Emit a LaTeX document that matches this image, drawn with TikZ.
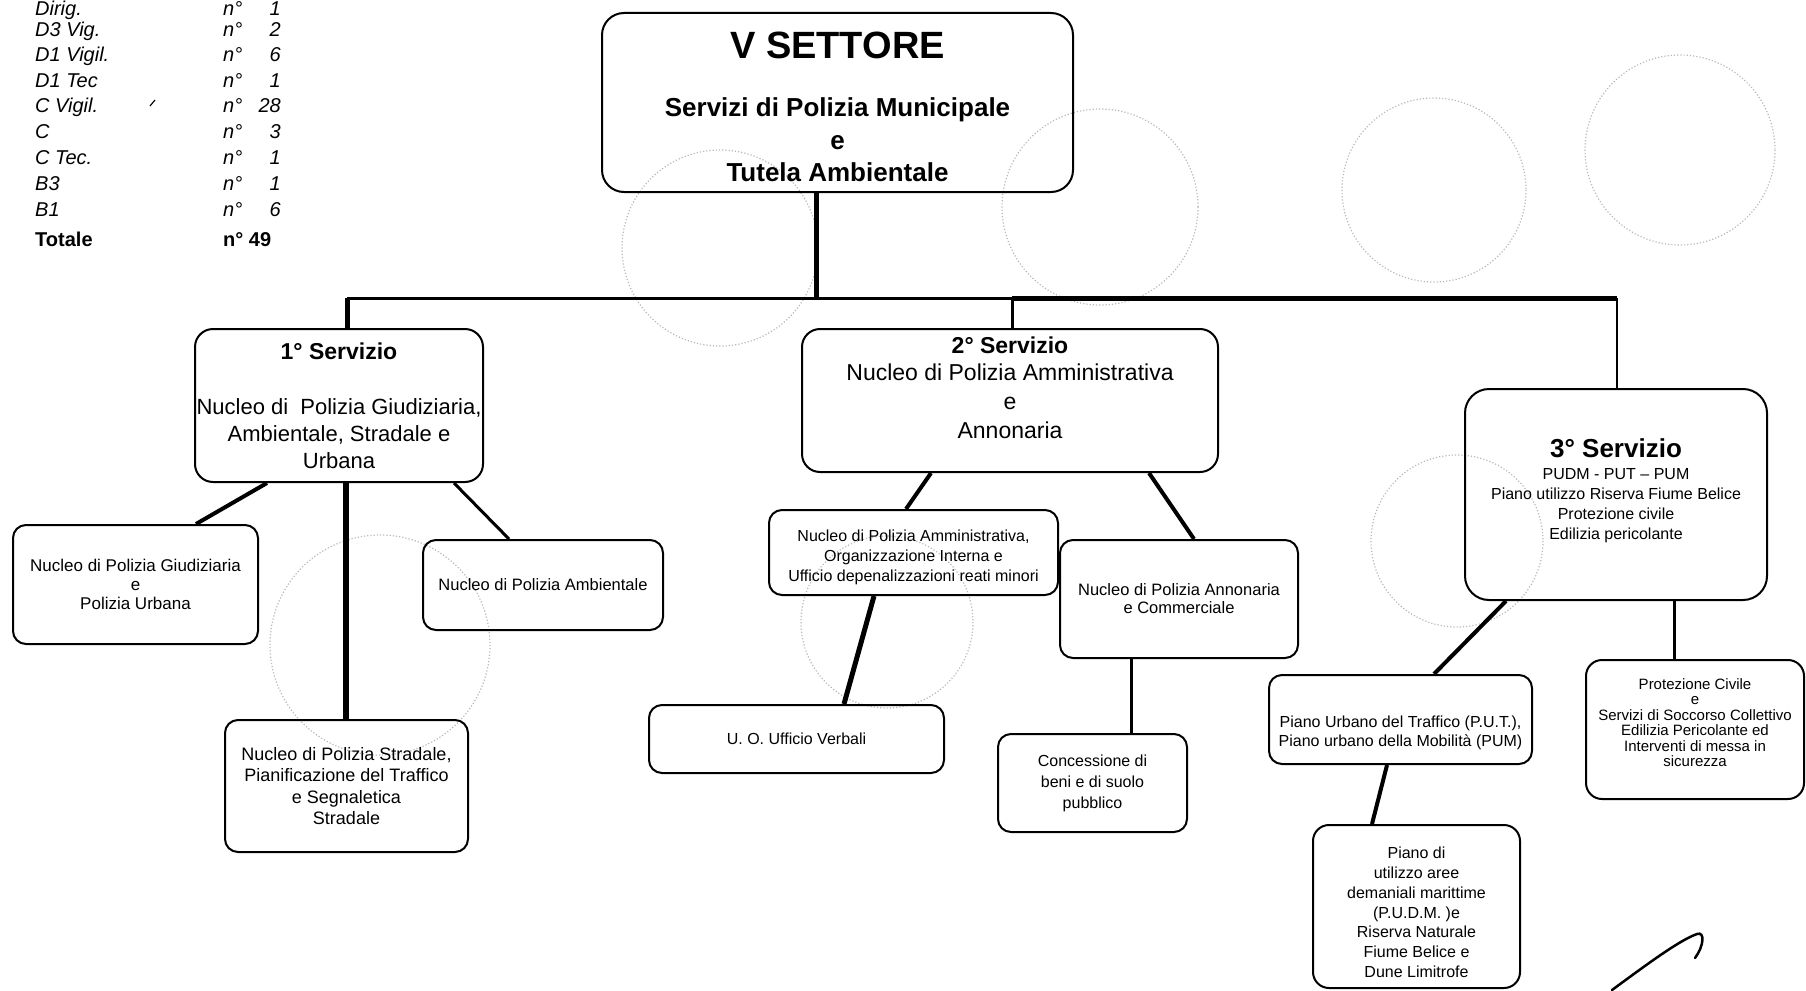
\documentclass[tikz,border=0pt]{standalone}
\usepackage{fontspec}
\setmainfont{Liberation Sans}
\begin{document}
\begin{tikzpicture}[x=1pt,y=-1pt,
  box/.style={draw, line width=2pt, rounded corners=18pt, align=center, inner sep=0pt},
  sbox/.style={box, rounded corners=13pt},
  staff/.style={inner sep=0pt, font=\fontsize{20}{24}\selectfont\itshape},
  tot/.style={inner sep=0pt, font=\fontsize{20}{24}\selectfont\bfseries},
  ln/.style={line width=#1pt},
  stamp/.style={draw=black!28, dotted, line width=1.2pt}
]
\useasboundingbox (0,0) rectangle (1806,990);

% faint stamp circles of the scan
\draw[stamp] (720,248) circle[radius=98];
\draw[stamp] (1100,207) circle[radius=98];
\draw[stamp] (1434,190) circle[radius=92];
\draw[stamp] (1680,150) circle[radius=95];
\draw[stamp] (380,645) circle[radius=110];
\draw[stamp] (887,622) circle[radius=86];
\draw[stamp] (1457,541) circle[radius=86];

% staff list
\foreach \lab/\num/\yy [count=\i] in {Dirig./1/16, D3 Vig./2/37, D1 Vigil./6/62, D1 Tec/1/87, C Vigil./28/112, C/3/138, C Tec./1/164, B3/1/190, B1/6/216} {
  \node[staff, anchor=base west] (sl\i) at (35,\yy) {\lab};
  \node[staff, anchor=base west] (sn\i) at (223,\yy) {n°};
  \node[staff, anchor=base east] (sv\i) at (281,\yy) {\num};
}
\node[tot, anchor=base west] (tl) at (35,246) {Totale};
\node[tot, anchor=base west] (tn) at (223,246) {n° 49};
\draw[ln=1.2] (150,106) -- (155,100);

% boxes
\node[box, rounded corners=22pt, minimum width=471pt, minimum height=179pt,
  font=\fontsize{26}{32.5}\selectfont\bfseries] (main) at (837.5,102.5)
  {\rule{0pt}{35pt}{\fontsize{38}{38}\selectfont V SETTORE}\\[26pt] Servizi di Polizia Municipale\\ e\\ Tutela Ambientale};

\node[box, minimum width=288pt, minimum height=153pt, font=\fontsize{22}{27}\selectfont] (s1) at (339,405.5)
  {{\fontsize{23}{27}\selectfont\bfseries 1° Servizio}\\[28pt] Nucleo di\ \ Polizia Giudiziaria,\\ Ambientale, Stradale e\\ Urbana};

\node[box, minimum width=416pt, minimum height=143pt, font=\fontsize{23}{29}\selectfont] (s2) at (1010,400.5)
  {{\bfseries 2° Servizio}\\[-2pt] Nucleo di Polizia Amministrativa\\ e\\ Annonaria\rule[-26pt]{0pt}{26pt}};

\node[box, rounded corners=24pt, minimum width=302pt, minimum height=211pt, font=\fontsize{16}{20}\selectfont] (s3) at (1616,494.5)
  {{\fontsize{26}{26}\selectfont\bfseries 3° Servizio}\\[2pt] PUDM - PUT – PUM\\ Piano utilizzo Riserva Fiume Belice\\ Protezione civile\\ Edilizia pericolante\rule[-11.5pt]{0pt}{11.5pt}};

\node[sbox, minimum width=245pt, minimum height=119pt, font=\fontsize{17}{19}\selectfont] (giud) at (135.5,584.5)
  {Nucleo di Polizia Giudiziaria\\ e\\ Polizia Urbana};
\node[sbox, minimum width=240pt, minimum height=90pt, font=\fontsize{16.5}{19}\selectfont] (amb) at (543,585)
  {Nucleo di Polizia Ambientale};
\node[sbox, minimum width=243pt, minimum height=132pt, font=\fontsize{18}{21.5}\selectfont] (strad) at (346.5,786)
  {Nucleo di Polizia Stradale,\\ Pianificazione del Traffico\\ e Segnaletica\\ Stradale};

\node[sbox, minimum width=289pt, minimum height=85pt, font=\fontsize{16}{20}\selectfont] (amm) at (913.5,552.5)
  {\rule{0pt}{21.5pt}Nucleo di Polizia Amministrativa,\\ Organizzazione Interna e\\ Ufficio depenalizzazioni reati minori};
\node[sbox, minimum width=238pt, minimum height=118pt, font=\fontsize{16.5}{18}\selectfont] (ann) at (1179,599)
  {Nucleo di Polizia Annonaria\\ e Commerciale};
\node[sbox, minimum width=295pt, minimum height=68pt, font=\fontsize{16}{19}\selectfont] (uo) at (796.5,739)
  {U. O. Ufficio Verbali};
\node[sbox, minimum width=189pt, minimum height=98pt, font=\fontsize{16}{21}\selectfont] (conc) at (1092.5,783)
  {Concessione di\\ beni e di suolo\\ pubblico};

\node[sbox, minimum width=263pt, minimum height=89pt, font=\fontsize{16}{19}\selectfont] (put) at (1400.5,719.5)
  {\rule{0pt}{39pt}Piano Urbano del Traffico (P.U.T.),\\ Piano urbano della Mobilità (PUM)};
\node[sbox, rounded corners=16pt, minimum width=218pt, minimum height=139pt, font=\fontsize{15}{15.5}\selectfont] (prot) at (1695,729.5)
  {Protezione Civile\\ e\\ Servizi di Soccorso Collettivo\\ Edilizia Pericolante ed\\ Interventi di messa in\\ sicurezza\rule[-14pt]{0pt}{14pt}};
\node[sbox, rounded corners=16pt, minimum width=207pt, minimum height=163pt, font=\fontsize{16}{19.8}\selectfont] (pudm) at (1416.5,906.5)
  {\rule{0pt}{23.5pt}Piano di\\ utilizzo aree\\ demaniali marittime\\ (P.U.D.M. )e\\ Riserva Naturale\\ Fiume Belice e\\ Dune Limitrofe};

% bus and drops
\coordinate (busL) at (347,298);
\coordinate (busR) at (1617,298);
\coordinate (j2) at (1012,298);
\coordinate (m0) at ([xshift=215pt]main.south west);
\draw[ln=3] (busL) -- (j2);
\draw[ln=5] (j2) -- (busR);
\draw[ln=5] (m0) -- (m0 |- busL);
\draw[ln=5] (busL) -- (busL |- s1.north);
\draw[ln=3] (j2) -- (j2 |- s2.north);
\draw[ln=2.5] (busR) -- (busR |- s3.north);

% lower connectors
\draw[ln=4] ([xshift=73pt]s1.south west) -- ([xshift=184pt]giud.north west);
\coordinate (c1s) at ([xshift=152pt]s1.south west);
\draw[ln=6] (c1s) -- (c1s |- strad.north);
\draw[ln=3] ([xshift=260pt]s1.south west) -- ([xshift=87pt]amb.north west);
\draw[ln=4] ([xshift=130pt]s2.south west) -- ([xshift=138pt]amm.north west);
\draw[ln=4] ([xshift=348pt]s2.south west) -- ([xshift=135pt]ann.north west);
\draw[ln=5] ([xshift=106pt]amm.south west) -- ([xshift=196pt]uo.north west);
\coordinate (c2c) at ([xshift=72pt]ann.south west);
\draw[ln=3] (c2c) -- (c2c |- conc.north);
\draw[ln=4] ([xshift=42pt]s3.south west) -- ([xshift=166pt]put.north west);
\coordinate (c3p) at ([xshift=210pt]s3.south west);
\draw[ln=3] (c3p) -- (c3p |- prot.north);
\draw[ln=4] ([xshift=119pt]put.south west) -- ([xshift=60pt]pudm.north west);

% pen stroke
\draw[ln=2.5, line cap=round] (1612,990) .. controls (1650,962) and (1680,940) .. (1697,934)
  .. controls (1705,931) and (1704,946) .. (1695,958);
\end{tikzpicture}
\end{document}
